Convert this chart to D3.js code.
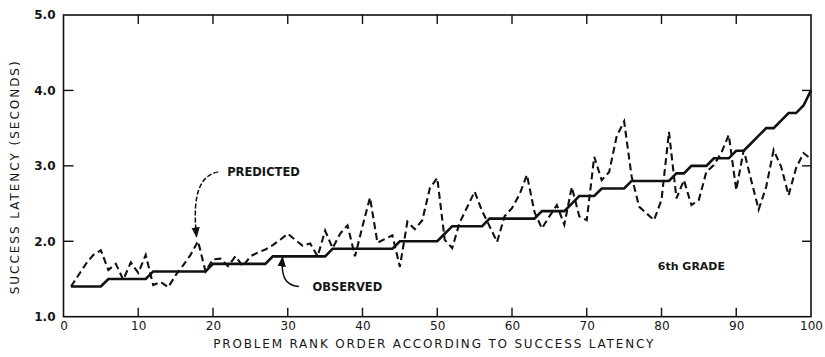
<!DOCTYPE html>
<html lang="en">
<head>
<meta charset="UTF-8">
<title>Success latency by problem rank</title>
<script src="https://d3js.org/d3.v7.min.js"></script>
<style>
    body { margin: 0; background: #fff; }
    text { font-family: "DejaVu Sans", Arial, sans-serif; fill: #161616; font-weight: bold; }
</style>
</head>
<body>
<script>
    // problem rank 1..100
    const ranks = d3.range(1, 101);

    // observed success latency (seconds), solid line
    const observed = [
        1.4, 1.4, 1.4, 1.4, 1.4, 1.5, 1.5, 1.5, 1.5, 1.5,
        1.5, 1.6, 1.6, 1.6, 1.6, 1.6, 1.6, 1.6, 1.6, 1.7,
        1.7, 1.7, 1.7, 1.7, 1.7, 1.7, 1.7, 1.8, 1.8, 1.8,
        1.8, 1.8, 1.8, 1.8, 1.8, 1.9, 1.9, 1.9, 1.9, 1.9,
        1.9, 1.9, 1.9, 1.9, 2.0, 2.0, 2.0, 2.0, 2.0, 2.0,
        2.1, 2.2, 2.2, 2.2, 2.2, 2.2, 2.3, 2.3, 2.3, 2.3,
        2.3, 2.3, 2.3, 2.4, 2.4, 2.4, 2.4, 2.5, 2.6, 2.6,
        2.6, 2.7, 2.7, 2.7, 2.7, 2.8, 2.8, 2.8, 2.8, 2.8,
        2.8, 2.9, 2.9, 3.0, 3.0, 3.0, 3.1, 3.1, 3.1, 3.2,
        3.2, 3.3, 3.4, 3.5, 3.5, 3.6, 3.7, 3.7, 3.8, 4.0
    ];

    // predicted success latency (seconds), dashed line
    const predicted = [
        1.40, 1.55, 1.70, 1.82, 1.88, 1.62, 1.70, 1.49, 1.72, 1.58,
        1.82, 1.42, 1.46, 1.39, 1.55, 1.68, 1.82, 2.00, 1.60, 1.76,
        1.77, 1.67, 1.80, 1.67, 1.80, 1.85, 1.89, 1.95, 2.02, 2.10,
        2.02, 1.94, 1.97, 1.80, 2.14, 1.91, 2.10, 2.21, 1.80, 2.20,
        2.58, 1.98, 2.03, 2.08, 1.66, 2.26, 2.16, 2.28, 2.70, 2.84,
        2.02, 1.91, 2.25, 2.45, 2.66, 2.40, 2.20, 1.99, 2.33, 2.44,
        2.62, 2.88, 2.39, 2.17, 2.33, 2.48, 2.22, 2.72, 2.33, 2.28,
        3.12, 2.81, 2.92, 3.39, 3.59, 2.86, 2.46, 2.37, 2.28, 2.55,
        3.45, 2.57, 2.81, 2.48, 2.55, 2.92, 3.01, 3.17, 3.41, 2.68,
        3.21, 2.81, 2.42, 2.72, 3.21, 2.99, 2.61, 2.97, 3.17, 3.09
    ];

    const xTicks = d3.range(0, 101, 10);
    const yTicks = [1, 2, 3, 4, 5];

    const width = 825, height = 357;
    const margin = { top: 15, right: 14, bottom: 40, left: 63.5 };

    const svg = d3.select("body").append("svg")
        .attr("width", width)
        .attr("height", height);

    const x = d3.scaleLinear().domain([0, 100]).range([margin.left, width - margin.right]);
    const y = d3.scaleLinear().domain([1, 5]).range([height - margin.bottom - 0.3, margin.top]);

    const innerTicks = xTicks.filter(d => d > 0 && d < 100);
    const innerY = yTicks.filter(d => d > 1 && d < 5);

    // frame
    svg.append("rect")
        .attr("x", x(0)).attr("y", y(5))
        .attr("width", x(100) - x(0)).attr("height", y(1) - y(5))
        .attr("fill", "none").attr("stroke", "#111").attr("stroke-width", 1.6);

    // bottom axis (labels + inward ticks)
    const gx = svg.append("g")
        .attr("transform", `translate(0,${y(1)})`)
        .call(d3.axisBottom(x).tickValues(xTicks).tickSizeInner(0).tickSizeOuter(0).tickPadding(5).tickFormat(d3.format("d")));
    gx.select(".domain").remove();
    gx.selectAll("text").style("font-size", "12px").style("font-weight", "normal");

    svg.append("g").selectAll("line").data(innerTicks).join("line")
        .attr("x1", d => x(d)).attr("x2", d => x(d))
        .attr("y1", y(1)).attr("y2", y(1) - 9)
        .attr("stroke", "#111").attr("stroke-width", 1.4);
    svg.append("g").selectAll("line").data(innerTicks).join("line")
        .attr("x1", d => x(d)).attr("x2", d => x(d))
        .attr("y1", y(5)).attr("y2", y(5) + 9)
        .attr("stroke", "#111").attr("stroke-width", 1.4);

    // left axis
    const gy = svg.append("g")
        .attr("transform", `translate(${x(0)},0)`)
        .call(d3.axisLeft(y).tickValues(yTicks).tickSizeInner(0).tickSizeOuter(0).tickPadding(8).tickFormat(d3.format(".1f")));
    gy.select(".domain").remove();
    gy.selectAll("text").style("font-size", "12px");

    svg.append("g").selectAll("line").data(innerY).join("line")
        .attr("x1", x(0)).attr("x2", x(0) + 10)
        .attr("y1", d => y(d)).attr("y2", d => y(d))
        .attr("stroke", "#111").attr("stroke-width", 1.4);
    svg.append("g").selectAll("line").data(innerY).join("line")
        .attr("x1", x(100)).attr("x2", x(100) - 9)
        .attr("y1", d => y(d)).attr("y2", d => y(d))
        .attr("stroke", "#111").attr("stroke-width", 1.4);

    // axis titles
    svg.append("text")
        .attr("x", (x(0) + x(100)) / 2 - 4).attr("y", 348)
        .attr("text-anchor", "middle")
        .attr("textLength", 440).attr("lengthAdjust", "spacing")
        .style("font-size", "12px").style("font-weight", "normal")
        .text("PROBLEM RANK ORDER ACCORDING TO SUCCESS LATENCY");

    svg.append("text")
        .attr("transform", `translate(19,${(y(1) + y(5)) / 2 + 12}) rotate(-90)`)
        .attr("text-anchor", "middle")
        .attr("textLength", 233).attr("lengthAdjust", "spacing")
        .style("font-size", "12px").style("font-weight", "normal")
        .text("SUCCESS LATENCY (SECONDS)");

    // lines
    const line = d3.line().x((d, i) => x(ranks[i])).y(d => y(d));

    svg.append("path")
        .datum(predicted)
        .attr("d", line)
        .attr("fill", "none").attr("stroke", "#111")
        .attr("stroke-width", 2.1)
        .attr("stroke-dasharray", "7,4");

    svg.append("path")
        .datum(observed)
        .attr("d", line)
        .attr("fill", "none").attr("stroke", "#111")
        .attr("stroke-width", 2.6);

    // arrow marker
    svg.append("defs").append("marker")
        .attr("id", "arrow")
        .attr("viewBox", "0 0 10 10")
        .attr("refX", 9).attr("refY", 5)
        .attr("markerWidth", 7).attr("markerHeight", 7)
        .attr("orient", "auto")
        .append("path").attr("d", "M0,1 L10,5 L0,9 Z").attr("fill", "#111");

    // PREDICTED annotation
    svg.append("path")
        .attr("d", `M${x(20.7)},${y(2.92)} C${x(18.2)},${y(2.87)} ${x(17.2)},${y(2.62)} ${x(17.8)},${y(2.06)}`)
        .attr("fill", "none").attr("stroke", "#111").attr("stroke-width", 1.5)
        .attr("stroke-dasharray", "5,2")
        .attr("marker-end", "url(#arrow)");
    svg.append("text")
        .attr("x", x(21.9)).attr("y", y(2.86))
        .style("font-size", "11.5px")
        .text("PREDICTED");

    // OBSERVED annotation
    svg.append("path")
        .attr("d", `M${x(31.5)},${y(1.4)} C${x(29.5)},${y(1.42)} ${x(29.1)},${y(1.55)} ${x(29.3)},${y(1.79)}`)
        .attr("fill", "none").attr("stroke", "#111").attr("stroke-width", 1.5)
        .attr("marker-end", "url(#arrow)");
    svg.append("text")
        .attr("x", x(33.3)).attr("y", y(1.34))
        .style("font-size", "11.5px")
        .text("OBSERVED");

    svg.append("text")
        .attr("x", x(84.0)).attr("y", y(1.62))
        .attr("text-anchor", "middle")
        .style("font-size", "11px")
        .text("6th GRADE");
</script>
</body>
</html>
